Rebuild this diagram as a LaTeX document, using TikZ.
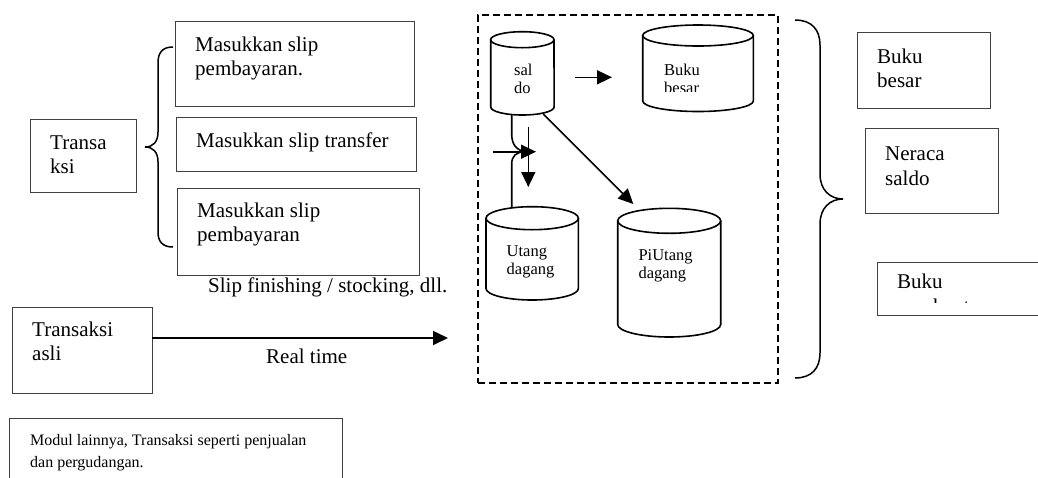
\documentclass[tikz,border=0pt]{standalone}
\usepackage{fontspec}
\setmainfont{Liberation Serif}
\usetikzlibrary{arrows.meta}
\begin{document}
\begin{tikzpicture}[x=1pt,y=-1pt,
  box/.style={draw=black!75, line width=1pt, inner sep=0pt, anchor=north west},
  lbl/.style={inner sep=0pt, anchor=base west, align=left},
  big/.style={font=\fontsize{21}{24.5}\selectfont},
  small/.style={font=\fontsize{16}{21.5}\selectfont},
  cyltxt/.style={font=\fontsize{16.5}{18}\selectfont},
  cylline/.style={draw=black, line width=1.6pt},
  arr/.style={draw=black, line width=1.6pt, -{Triangle[length=15pt,width=14pt]}},
  brace/.style={draw=black, line width=1.5pt},
  hole/.style={inner sep=0pt, anchor=north west}
]
\useasboundingbox (0,0) rectangle (1038,477);
\fill[white] (0,0) rectangle (1038,477);

% left boxes
\node[box, minimum width=106pt, minimum height=73pt] (tr) at (30,119) {};
\node[lbl,big] (trT) at (50,173.5) {Transa\\ksi};
\node[box, minimum width=239pt, minimum height=85pt] (b1) at (175,21) {};
\node[lbl,big] (b1T) at (195,75.5) {Masukkan slip\\pembayaran.};
\node[box, minimum width=240pt, minimum height=54pt] (b2) at (176,117) {};
\node[lbl,big] (b2T) at (196,147) {Masukkan slip transfer};
\node[box, minimum width=242pt, minimum height=87pt] (b3) at (177,188) {};
\node[lbl,big] (b3T) at (197,241.5) {Masukkan slip\\pembayaran};
\node[lbl,big] (slipT) at (208,292) {Slip finishing / stocking, dll.};

% left brace
\draw[brace] (173,47) .. controls (162,47) and (158,53) .. (158,63) -- (158,132)
  .. controls (158,142) and (153,147) .. (145,147)
  .. controls (153,147) and (158,152) .. (158,162) -- (158,232)
  .. controls (158,241) and (162,247) .. (173,247);

% transaksi asli
\node[box, minimum width=140pt, minimum height=86pt] (asli) at (12,307) {};
\node[lbl,big] (asliT) at (32,360.5) {Transaksi\\asli};
\coordinate (rtS) at (152,338);
\coordinate (rtE) at (448,338);
\draw[arr] (rtS) -- (rtE);
\node[lbl,big] (rtT) at (266,363) {Real time};

% modul box (runs off the bottom)
\node[box, minimum width=333pt, minimum height=90pt] (modul) at (9,418) {};
\node[lbl,small] (modT) at (30,467) {Modul lainnya, Transaksi seperti penjualan\\dan pergudangan.};

% dashed frame
\node[hole, draw=black, line width=1.5pt, dash pattern=on 7pt off 4pt, minimum width=300pt, minimum height=368pt] (frame) at (477,14) {};

% cylinder saldo
\draw[cylline] (522.3,39.7) ellipse [x radius=31.7pt, y radius=8pt];
\draw[cylline] (490.7,39.7) -- (490.7,107) arc[start angle=180, end angle=360, x radius=31.7pt, y radius=8pt] -- (554,39.7);
\node[hole, minimum width=63pt, minimum height=83pt] (saldo) at (490.7,31.7) {};
\node[lbl,cyltxt] (saldoT) at (514,93) {sal\\do};

% cylinder buku besar
\draw[cylline] (698,35.5) ellipse [x radius=55.3pt, y radius=10.5pt];
\draw[cylline] (642.7,35.5) -- (642.7,101) arc[start angle=180, end angle=360, x radius=55.3pt, y radius=10.5pt] -- (753.3,35.5);
\node[hole, minimum width=110pt, minimum height=86pt] (bbcyl) at (642.7,25) {};
\begin{scope}
\clip (645,48) rectangle (750,91.5);
\node[lbl,cyltxt] (bbT) at (664,93.7) {Buku\\besar};
\end{scope}

% cylinder utang dagang
\draw[cylline] (532.2,218.2) ellipse [x radius=46.2pt, y radius=11.5pt];
\draw[cylline] (486,218.2) -- (486,288.5) arc[start angle=180, end angle=360, x radius=46.2pt, y radius=11.5pt] -- (578.3,218.2);
\node[hole, minimum width=92pt, minimum height=93pt] (utang) at (486,206.7) {};
\node[lbl,cyltxt] (utT) at (506.5,274.7) {Utang\\dagang};

% cylinder piutang dagang
\draw[cylline] (669.2,220.8) ellipse [x radius=51.5pt, y radius=12.5pt];
\draw[cylline] (617.7,220.8) -- (617.7,324.5) arc[start angle=180, end angle=360, x radius=51.5pt, y radius=12.5pt] -- (720.7,220.8);
\node[hole, minimum width=103pt, minimum height=129pt] (piutang) at (617.7,208.3) {};
\node[lbl,cyltxt] (piT) at (638.3,278) {PiUtang\\dagang};

% arrows inside frame
\coordinate (a1s) at (575,77.3);
\coordinate (a1e) at (612,77.3);
\draw[arr] (a1s) -- (a1e);
\coordinate (a2s) at (543.3,114);
\coordinate (a2e) at (633.3,204);
\draw[arr] (a2s) -- (a2e);
\coordinate (a3s) at (528.3,126.7);
\coordinate (a3e) at (528.3,187);
\draw[arr] (a3s) -- (a3e);
\coordinate (a4s) at (493.3,151.7);
\coordinate (a4e) at (536,151.7);
\draw[arr] (a4s) -- (a4e);
\coordinate (c1s) at (511.7,114.5);
\coordinate (c2s) at (511.7,207.5);
\coordinate (cj) at (525,151.7);
\draw[line width=1.6pt] (c1s) -- (511.7,134) .. controls (511.7,144) and (516,150) .. (cj);
\draw[line width=1.6pt] (c2s) -- (511.7,164) .. controls (511.7,156) and (516,152) .. (cj);

% right brace
\draw[brace] (795,20) .. controls (812,20) and (820,30) .. (820,45) -- (820,174)
  .. controls (820,190) and (830,199) .. (843,199)
  .. controls (830,199) and (820,208) .. (820,224) -- (820,353)
  .. controls (820,368) and (812,378) .. (795,378);

% right boxes
\node[box, minimum width=133pt, minimum height=76pt] (rb1) at (857,32) {};
\node[lbl,big] (rb1T) at (877,87.5) {Buku\\besar};
\node[box, minimum width=133pt, minimum height=85pt] (rb2) at (865,128) {};
\node[lbl,big] (rb2T) at (885,185) {Neraca\\saldo};
\node[box, minimum width=200pt, minimum height=53pt] (rb3) at (877,262) {};
\begin{scope}
\clip (878,263) rectangle (1038,302.5);
\node[lbl,big] (rb3T) at (897,313) {Buku\\pembantu};
\end{scope}
\end{tikzpicture}
\end{document}
